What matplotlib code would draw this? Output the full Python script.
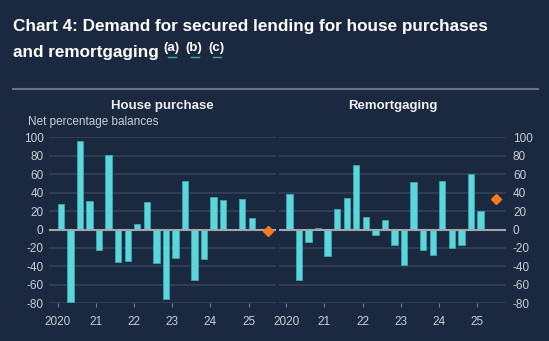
import matplotlib
matplotlib.use("Agg")
import matplotlib.pyplot as plt
from matplotlib.lines import Line2D
import pandas as pd

# quarters 2020 Q1 .. 2025 Q1, net percentage balances
quarters = pd.period_range("2020Q1", "2025Q1", freq="Q")
house_purchase = [28, -79, 96, 31, -22, 81, -35, -34, 6, 30, -36,
                  -75, -31, 52.5, -55, -31.5, 35, 32, 0, 33, 12]
remortgaging = [38, -55, -13.5, 2, -29, 22, 34, 70, 14, -6, 10,
                -17, -38, 51.5, -22.5, -27.5, 53, -20, -17, 60, 20]
# expectation for 2025 Q3
expected_quarter = pd.Period("2025Q3", freq="Q")
hp_expected = -2
rm_expected = 33

year_ticks = [2020, 2021, 2022, 2023, 2024, 2025]
year_labels = ["2020", "21", "22", "23", "24", "25"]
y_ticks = list(range(-80, 101, 20))

bg = "#1a2940"
grid_col = "#34455b"
bar_col = "#5cd6da"
orange = "#f47a20"
text_col = "#c9cdd3"

plt.rcParams["font.family"] = ["Liberation Sans", "DejaVu Sans"]
plt.rcParams["axes.unicode_minus"] = False

def qpos(p):
    return p.year + (p.quarter - 1) / 4

x = [qpos(p) for p in quarters]

fig = plt.figure(figsize=(5.49, 3.41), dpi=100, facecolor=bg)

ax1 = fig.add_axes([49 / 549, 1 - 303.3 / 341, 227 / 549, 166 / 341])
ax2 = fig.add_axes([279 / 549, 1 - 303.3 / 341, 227 / 549, 166 / 341])

panels = [(ax1, house_purchase, hp_expected, "House purchase", (2019.772, 2025.715)),
          (ax2, remortgaging, rm_expected, "Remortgaging", (2019.81, 2025.75))]

for ax, vals, exp, title, xl in panels:
    ax.set_facecolor(bg)
    for s in ax.spines.values():
        s.set_visible(False)
    for yv in y_ticks:
        ax.axhline(yv, color=grid_col, lw=1.1, zorder=0)
    ax.bar(x, vals, width=0.165, align="edge", color=bar_col,
           edgecolor="#3aa9ae", linewidth=0.6, zorder=2)
    ax.axhline(0, color="#a3a7ad", lw=1.5, zorder=3)
    ax.plot([qpos(expected_quarter)], [exp], marker="D", ms=5.5,
            color=orange, ls="none", zorder=4)
    ax.set_xlim(*xl)
    ax.set_ylim(-80, 100)
    ax.set_yticks(y_ticks)
    ax.set_xticks(year_ticks)
    ax.set_xticklabels(year_labels)
    ax.tick_params(axis="x", colors="#707b89", labelcolor=text_col,
                   labelsize=8.5, length=3, pad=6)
    ax.tick_params(axis="y", length=0, labelcolor=text_col, labelsize=8.5)
    ax.text(0.5, 1 + (137.3 - 106) / 166, title, transform=ax.transAxes,
            ha="center", va="center", color="#eeeeee", fontsize=9.5,
            fontweight="bold")

ax1.tick_params(axis="y", pad=4)
ax2.yaxis.tick_right()
ax2.tick_params(axis="y", pad=5, length=0)

fig.text(28 / 549, 1 - 122 / 341, "Net percentage balances", color=text_col,
         fontsize=8.5, ha="left", va="center")

# title
fig.text(13 / 549, 1 - 31 / 341, "Chart 4: Demand for secured lending for house purchases",
         color="white", fontsize=12.3, fontweight="bold", ha="left", va="baseline")
fig.text(13 / 549, 1 - 56.7 / 341, "and remortgaging",
         color="white", fontsize=12.3, fontweight="bold", ha="left", va="baseline")
for lab, x0, (u0, u1) in [("(a)", 163.3, (168.3, 175.7)),
                          ("(b)", 185.0, (190.7, 199.0)),
                          ("(c)", 208.3, (213.3, 220.7))]:
    fig.text(x0 / 549, 1 - 50.5 / 341, lab, color="white", fontsize=9.5,
             fontweight="bold", ha="left", va="baseline")
    fig.add_artist(Line2D([u0 / 549, u1 / 549], [1 - 56.5 / 341] * 2,
                          color="#2bb3a8", lw=1.0))

# separator line under title
fig.add_artist(Line2D([13 / 549, 538 / 549], [1 - 89 / 341] * 2,
                      color="#6a7280", lw=1.5))

fig.savefig("out.png", dpi=100, facecolor=bg)
